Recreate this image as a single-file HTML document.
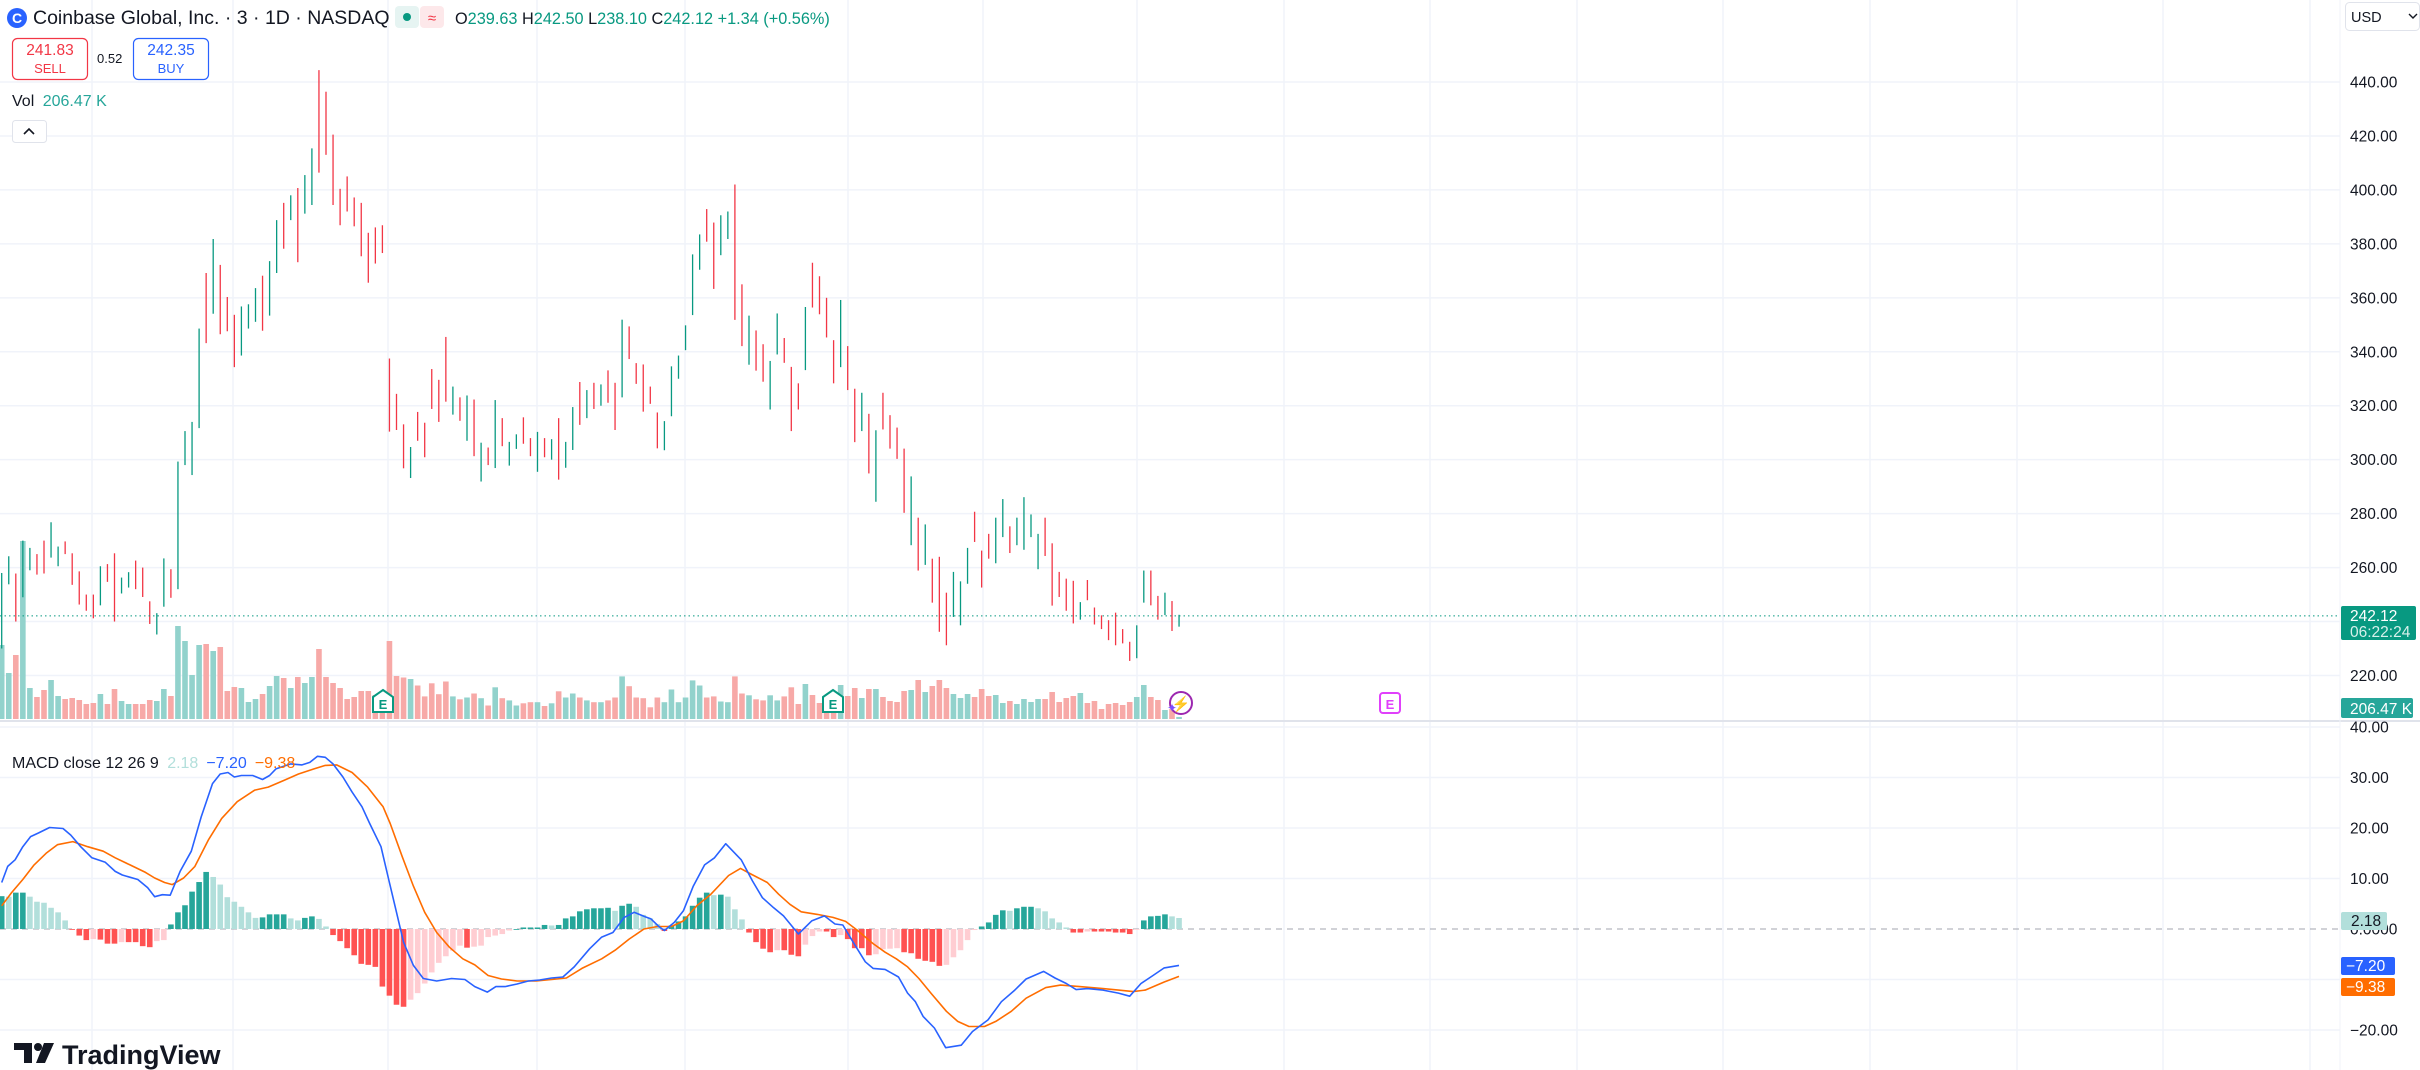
<!DOCTYPE html>
<html><head><meta charset="utf-8"><title>COIN 1D chart</title>
<style>
html,body{margin:0;padding:0;background:#fff;}
body{width:2420px;height:1070px;overflow:hidden;position:relative;font-family:"Liberation Sans",sans-serif;}
svg{position:absolute;left:0;top:0;}
.t{font-family:"Liberation Sans",sans-serif;}
</style></head>
<body>
<svg id="chart" width="2420" height="1070" viewBox="0 0 2420 1070" xmlns="http://www.w3.org/2000/svg">
  <g id="grid"></g>
  <g id="volume"></g>
  <g id="candles"></g>
  <g id="macdpane"></g>
  <g id="axis"></g>
  <g id="overlay"></g>
</svg>
<script>
var opens=[232,256.7,256.6,249.1,259.4,265,260.2,265,263,268.6,265.3,258.6,246.8,247,247.8,257.4,261,250.4,255.1,259,257.4,246.4,237.1,247.5,256.7,253.6,303.3,301.8,314,360.5,354.1,369.2,359.2,339.7,339.9,350.2,354,362.4,358.4,371.9,389.8,392,391.7,392.2,399.6,419.6,425,419,399.6,404,391.8,394.4,383.3,383,382.5,335.1,319.6,307,297.1,310.8,311.4,321.8,329.2,327.9,320,322.3,311.3,320.4,304.2,301.3,300,312.1,301.2,304,312.6,306,299.6,304.7,301.3,313.7,302.4,303.6,321.9,318.4,327.1,321.8,332.1,325.8,325.6,342.6,333.2,333.2,323.4,314.4,308.4,317.5,330,343.3,354.9,373.4,390.2,386.9,378.8,384.2,387.5,363.3,341.3,345.7,338.6,319.9,342.4,342.4,333.7,323,334.7,362.7,363.1,357.5,343.6,335.7,340.9,319,315.8,316.5,290,323,312.2,309.4,301.6,269.5,274.8,261.7,262.1,260,244.2,244.8,247.7,256.3,274.2,260.9,267.8,268.3,273.6,270.5,273,270.7,273.2,267,272,268.3,253.6,254.8,253,244.7,252,243.3,240.5,240.5,234.7,233.7,231.6,230.7,247,255.3,248.3,244.8,246.4,239.63];
var highs=[258,264.2,257.8,270,267.3,265,270,276.8,267.8,269.7,265.3,258.6,250,250,260.5,261.3,265.3,256.3,258.3,262.6,260,247.5,243.1,263.4,259.4,299.3,310.6,314,348.6,369.2,381.8,372.2,360.3,353.7,356.8,357.6,363.6,368.2,373.6,388.8,395.2,398,400.7,405.5,415.4,444.4,436.4,420.5,400.4,405,397.2,395.2,384.1,386.1,386.9,337.5,324.4,313.1,304.7,317.7,313.7,333.6,329.6,345.5,327.1,323.1,323.8,322.3,306.3,304.5,322.1,315.4,306.6,309.4,315.7,308,310.3,308,307.6,315.4,306.6,319.5,328.8,325.8,328.5,327.9,333.1,328.5,351.9,349.4,335.8,335.3,327.1,317.5,314.3,334.6,338.6,349.8,376.1,383.5,392.9,387.9,390.6,392,402,365,353.4,347.9,342.8,336.6,354.2,345.1,334.4,328.3,356.6,373,368,360,344.3,359.2,342.1,326.3,324.8,317,310.9,324.8,316.5,311.9,304.1,293.8,278.5,276,263.3,264,250.7,258.4,254.9,267.3,280.7,266.3,272.5,278.5,285.4,275.3,278.5,286.1,279.7,272.5,278.5,269,258.4,255.9,255.1,247.2,255.4,245.2,242.3,240.5,243.3,237.2,232.5,238.6,258.9,258.9,249.5,250.7,247.6,242.5];
var lows=[230,253.8,240,249,259,257.4,257.8,263.7,260.5,265,253.6,246.3,244,241.2,246,254.7,240,250.4,252.6,252,249.1,239.1,235.2,245.5,248.8,252,298,294.3,311.7,343.2,354.1,346.5,347.6,334.3,338.6,348.6,351.1,347.8,353.4,369.2,378.2,388.8,373.2,391.2,394.4,406.4,413,394.4,386.9,392,386.5,375.4,365.6,372.7,376.6,310.4,311,296.8,293.2,307,300.9,318.8,314,321.5,316.7,314.4,307,301.3,291.9,298,296.9,305,297.8,304,305.9,301.3,295.5,300.9,300,292.6,297,303.6,312.9,315.4,318.8,320,321.1,311,323.1,337.3,328.1,317.8,320.7,304.2,303.5,316.1,330,340.6,353.6,370.4,380.8,363.3,375.8,381.8,351.8,342.1,335.2,333,328.9,318.6,339,335.9,310.6,318.6,333.2,356.4,353.9,345.3,328.3,334.3,325.8,306.5,310.6,294.9,284.4,311.2,304.1,300.3,280.3,268.3,258.9,261,247,236.2,231.2,241.7,238.6,254,269.5,252.6,263.3,261.6,271.3,265.4,268.3,266.6,271.3,259.4,264.3,245.9,249.1,244,239.3,240.7,247.9,238.9,237.2,233.1,231.2,231.9,225.4,226.4,247,246,240.7,242.4,236.5,238.1];
var closes=[257,263.4,244.1,266.2,263.7,261,258.3,271.6,263.4,265.8,254,248.3,246.4,246.3,258.9,255.5,243.6,251.5,256.7,254.2,250.2,240.7,242.5,261.3,253.9,295,308,307.4,344.6,354.9,374.7,352.9,350,334.7,354.4,355.7,356.8,354.8,373.6,388.8,387,393.6,387.7,398,410.4,419.4,413,404,397.5,396.4,391.7,379,370.8,377.1,377.4,314.5,317.7,297.5,303.9,310.5,310,319.4,322.5,326.5,325.1,317.1,320.8,301.6,304.4,300,319.7,305.4,305.9,306,308,303.6,303.6,301.9,306.6,298.8,302.7,319.2,315.1,323.4,321.8,326.3,327.7,320,342.7,342.4,331.5,319.8,321.9,306.6,312.7,334.3,337.6,346.1,372,380.1,386.2,375.7,387.3,386.9,357.2,357.2,341.6,336.3,330,336,344,338.7,320.2,322.8,354.4,360.9,355.1,348.3,328.3,343.7,330.1,307.2,319.3,294.9,309.4,317.7,304.1,303.8,282.8,284.1,264,261.9,257.2,238,240.2,255.9,254.2,264.9,273,259.9,263.3,277,273.9,269.6,274.2,277.5,275.4,268.9,267.4,250.4,252.6,244,239.3,245,247.9,242.3,239.6,236.9,233.7,231.9,226,236.8,254.9,250.7,245.8,245.6,240.6,242.12];
var volumes=[7400,4600,6400,17800,3100,2200,2900,3900,2300,2000,2100,1900,1500,1600,2500,1500,3000,1800,1500,1500,1500,1900,1800,3000,2300,9300,7800,4400,7400,7500,6800,7200,2800,3200,3100,1700,2000,2500,3300,4300,4100,3100,4200,3600,4200,7000,4200,3600,3100,2000,2200,2800,2800,2400,2400,7800,4300,4150,4000,3350,2260,3570,2480,3750,2260,1970,2150,2550,2080,1350,3170,2080,1860,1350,1570,1680,1680,1300,1570,2770,2150,2550,2150,1860,1680,1680,1860,2150,4260,3280,2150,2080,1170,2150,1680,2950,1680,2150,3860,3350,2150,2260,1750,1680,4260,2550,2370,1970,1860,2370,1860,2260,3170,1500,3500,2400,1600,1600,1600,3400,2300,3100,2100,3000,3000,2200,1800,1700,2800,2900,3900,2700,3300,3900,3100,2500,2100,2500,2200,3000,2300,2400,1600,1800,1500,2000,1700,2000,2000,2700,1700,2100,2300,2600,1600,1800,1000,1500,1600,1400,1700,2200,3400,2200,1900,900,1000,206];
var histValues=[6.5,6.4,7.2,7.2,6.4,5.4,5.2,4.2,3.3,1.7,-0.1,-1.3,-2.2,-2,-2.1,-2.9,-2.9,-2.6,-2.6,-2.6,-3.4,-3.6,-2.4,-2.2,0.9,3.3,4.7,7.4,9.3,11.3,10.3,8.8,6.3,5.4,4.4,3.3,2.2,2.3,2.9,2.9,2.9,2.1,1.7,2.2,2.5,2,0.5,-1.2,-2.4,-3.8,-5.2,-6.9,-7.1,-7.5,-11.4,-13.2,-15,-15.4,-14,-12.7,-10.8,-8.6,-6.7,-5.4,-4.3,-3.3,-3.7,-3.5,-3.3,-1.6,-1.3,-1,-0.3,0,0.3,0.3,0.3,0.8,0.7,0.8,2.1,2.5,3.5,3.9,4.1,4.1,4.2,3.6,4.6,5,4.4,2.8,2.1,1,-0.4,0.7,1.5,2.5,4.6,6.2,7.2,6.7,6.8,6.4,3.9,1.9,-0.7,-2.6,-3.9,-4.6,-4.2,-4.2,-5.1,-5.4,-3.1,-1.4,-0.5,-0.5,-1.6,-1.2,-2,-3.8,-3.8,-5.2,-5,-4,-3.9,-3.8,-4.6,-4.8,-5.9,-6.3,-6.5,-7.3,-7.1,-5.6,-4.2,-2.2,-0.2,0.5,1.3,2.8,3.7,3.6,4.1,4.4,4.4,4.1,3.5,2.1,1.3,0.3,-0.7,-0.7,-0.5,-0.5,-0.5,-0.5,-0.7,-0.7,-1,-0.1,1.7,2.5,2.6,2.9,2.5,2.18];
var macdIdx=[0,0.85,1.9,3,4.1,5.2,6.8,8.7,9.8,11.2,12.8,14.7,16.1,17.1,19.3,20.7,21.7,22.8,23.9,25.3,26.9,28.3,29.9,31,32.1,33,34,35.6,37,38,38.9,41,42.6,43.7,44.8,45.9,47,48.4,49.7,51.1,52.2,53.8,54.9,56,57,58.4,59.8,61.7,63.8,65.7,67.1,68.9,70.1,71.4,73.1,74.7,76.3,78,79.6,81.2,83.4,85.1,86.7,88.3,89.7,91.3,92.1,93.2,94,95.4,96.7,98.1,99.7,101.1,102.7,104.9,106.5,107.9,109.5,110.9,113,114.9,116.7,118.2,119.3,120.9,122.5,123.6,125.3,127.2,128.5,129.6,130.7,132.3,133.9,136.1,137.7,139.9,141.8,143.7,145.3,147.8,149.4,151,152.4,154,156.2,158.4,160,161.6,163.3,164.9,167];
var macdValues=[9.2,12.4,13.7,16.3,18.3,19,20.1,19.9,18.6,16.3,14.1,13.2,11.4,10.7,9.8,8.2,6.4,6.8,6.7,11.4,15.4,22.2,28.8,30.7,31,30.1,30.4,30.4,29.6,30.4,31.7,32.7,32.5,33,34.2,34,32.7,30.1,27.1,24.2,20.9,16.3,9.8,3.3,-2.6,-7.2,-9.8,-10.3,-9.8,-10,-11.4,-12.5,-11.4,-11.4,-10.9,-10.3,-10.1,-9.7,-9.5,-7.5,-3.9,-1.6,-0.7,2.3,3.3,2.4,2,0.5,-0.3,1.3,3.6,8.5,12.7,14.1,16.9,13.7,9.5,6.2,4.2,2.6,-1,1.6,2.6,1,0.8,-2.9,-6.5,-7.8,-8,-9.5,-12.7,-14.4,-17.3,-19.6,-23.5,-23,-20.3,-18,-14.4,-12.1,-9.9,-8.4,-9.7,-10.8,-12,-11.8,-12.1,-12.7,-13.3,-10.8,-9.2,-7.7,-7.2];
var signalIdx=[0,1.4,3,4.6,6.3,7.9,10.1,12.2,14.4,16.1,18.2,20.4,21.7,23.1,24.2,25.8,27.4,29.3,31.2,33.4,35.9,37.8,40,42.1,44.3,45.9,47.5,49.7,51.9,54.1,55.1,56.8,58.4,60,61.7,63.5,65.4,67.1,69,70.9,73.1,75.8,78,80.1,82.3,85.1,87,89,91.1,93,95,96.7,98.6,100.6,103.1,104.8,106.4,108.6,110.2,111.8,113.4,115.7,117.9,119.7,121.4,123.6,125.3,126.9,128.5,130.1,131.8,134,135.6,137.2,139.4,141,143.2,145.3,148.1,150.2,152.9,156.2,158.4,160.5,162.2,164.9,167];
var signalValues=[4.6,7.2,9.8,12.7,15,16.7,17.3,16.3,15.4,14.1,12.7,11.2,10.1,9.2,8.8,10.1,12.4,17.6,21.9,25.2,27.5,28.1,29.4,30.7,31.7,32.4,32.5,31,28.1,24.2,20.9,14.4,8.5,3.3,-0.7,-3.6,-5.9,-7.1,-9.2,-9.9,-10.3,-10.3,-10,-9.7,-7.8,-5.9,-4.2,-2,0,0.5,0.5,1.6,4.6,6.9,10.6,12,10.8,9.2,6.9,4.9,3.4,2.9,2.3,1.5,-0.3,-2.9,-4.6,-5.9,-7.5,-9.8,-12.7,-16.3,-18.3,-19.3,-19.3,-18.3,-16.3,-13.7,-11.6,-11.1,-11.4,-11.8,-12.1,-12.4,-12.1,-10.5,-9.38];
var priceTicks=[440,420,400,380,360,340,320,300,280,260,220];
var macdTicks=[40,30,20,10,-20];
var monthLines=[92,233,388,537,685,848,983,1137,1284,1430,1577,1723,1870,2017,2163,2310];

var NS="http://www.w3.org/2000/svg";
function mk(tag,attrs,parent){var e=document.createElementNS(NS,tag);for(var k in attrs)e.setAttribute(k,attrs[k]);parent.appendChild(e);return e;}
function xOf(i){return 1.7+7.05*i;}
function yP(p){return 82+(440-p)*2.6977;}
function yM(v){return 929-v*5.05;}
function hV(v){return v/100;}
var GREEN="#089981",RED="#f23645";
var grid=document.getElementById('grid');
for(var k=0;k<monthLines.length;k++){
  var l=mk('line',{x1:monthLines[k],x2:monthLines[k],y1:0,y2:1070,stroke:'#f0f3fa','stroke-width':1.5},grid);
  
  
}
for(var p=440;p>=220;p-=20){
  var g=mk('line',{x1:0,x2:2340,y1:yP(p),y2:yP(p),stroke:'#f0f3fa','stroke-width':1.5},grid);
  
  
}
for(var v=40;v>=-20;v-=10){
  if(v===0)continue;
  var g2=mk('line',{x1:0,x2:2340,y1:yM(v),y2:yM(v),stroke:'#f0f3fa','stroke-width':1.5},grid);
  
  
}
var sep=mk('line',{x1:0,x2:2420,y1:721,y2:721,stroke:'#e0e3eb','stroke-width':2},grid);


var ab=mk('line',{x1:2340,x2:2340,y1:0,y2:1070,stroke:'#f0f3fa','stroke-width':1},grid);



var vol=document.getElementById('volume');
for(var i=0;i<volumes.length;i++){
  var up=closes[i]>=opens[i];
  var h=hV(volumes[i]);
  var r=mk('rect',{x:xOf(i)-2.8,y:719-h,width:5.6,height:h,fill:up?'#92d2cc':'#f7a9a7'},vol);
  
  
}
var cg=document.getElementById('candles');
for(var i=0;i<opens.length;i++){
  var up=closes[i]>=opens[i];var c=up?GREEN:RED;var x=xOf(i);
  var w=mk('line',{x1:x,x2:x,y1:yP(highs[i]),y2:yP(lows[i]),stroke:c,'stroke-width':1.3},cg);
  
  
  var top=yP(Math.max(opens[i],closes[i])),bot=yP(Math.min(opens[i],closes[i]));
  var b=mk('rect',{x:x-2.5,y:top,width:5,height:Math.max(1.2,bot-top),fill:c},cg);
  
  
}
var pl=mk('line',{x1:0,x2:2340,y1:yP(242.12),y2:yP(242.12),stroke:GREEN,'stroke-width':1,'stroke-dasharray':'1.5 3'},cg);



var mp=document.getElementById('macdpane');
var zl=mk('line',{x1:0,x2:2340,y1:yM(0),y2:yM(0),stroke:'#a3a6af','stroke-width':1,'stroke-dasharray':'6 5'},mp);


for(var i=0;i<histValues.length;i++){
  var hv=histValues[i],prev=i>0?histValues[i-1]:hv;var col;
  if(hv>=0)col=hv>=prev?'#26a69a':'#b2dfdb';else col=hv<=prev?'#ff5252':'#ffcdd2';
  var y0=yM(0),y1=yM(hv);
  var hb=mk('rect',{x:xOf(i)-2.8,y:Math.min(y0,y1),width:5.6,height:Math.max(0.8,Math.abs(y1-y0)),fill:col},mp);
  
  
}
function poly(idx,vals,color,name){
  var pts=[];for(var i=0;i<idx.length;i++)pts.push(xOf(idx[i]).toFixed(1)+','+yM(vals[i]).toFixed(1));
  var pl=mk('polyline',{points:pts.join(' '),fill:'none',stroke:color,'stroke-width':1.6,'stroke-linejoin':'round'},mp);
  
  
}
poly(signalIdx,signalValues,'#ff6d00','signal-line');
poly(macdIdx,macdValues,'#2962ff','macd-line');

var ax=document.getElementById('axis');
for(var k=0;k<priceTicks.length;k++){
  var t=mk('text',{x:2350,y:yP(priceTicks[k])+5.5,'font-size':15.5,fill:'#131722','class':'t'},ax);
  t.textContent=priceTicks[k].toFixed(2);
  
  
}
for(var k=0;k<macdTicks.length;k++){
  var t2=mk('text',{x:2350,y:yM(macdTicks[k])+5.5,'font-size':15.5,fill:'#131722','class':'t'},ax);
  t2.textContent=(macdTicks[k]<0?'\u2212'+Math.abs(macdTicks[k]).toFixed(2):macdTicks[k].toFixed(2));
  
  
}
var zt=mk('text',{x:2350,y:yM(0)+5.5,'font-size':15.5,fill:'#131722','class':'t'},ax);
zt.textContent='0.0000';


</script>

<svg width="2420" height="1070" viewBox="0 0 2420 1070" xmlns="http://www.w3.org/2000/svg" style="pointer-events:none">
  <g>
    <circle cx="17" cy="18" r="10" fill="#2962ff"/>
    <text x="17" y="23" font-size="14" font-weight="bold" fill="#fff" text-anchor="middle" class="t">C</text>
    <text x="33" y="24" font-size="19.5" fill="#131722" class="t">Coinbase Global, Inc. · 3 · 1D · NASDAQ</text>
    <rect x="395" y="6" width="24" height="22" rx="4" fill="#e6f4f2"/>
    <circle cx="407" cy="17" r="4" fill="#089981"/>
    <rect x="420" y="6" width="24" height="22" rx="4" fill="#fde8ea"/>
    <text x="432" y="23" font-size="15" fill="#f23645" text-anchor="middle" class="t">≈</text>
    <text x="455" y="24" font-size="16.3" class="t" fill="#089981"><tspan fill="#131722">O</tspan>239.63 <tspan fill="#131722">H</tspan>242.50 <tspan fill="#131722">L</tspan>238.10 <tspan fill="#131722">C</tspan>242.12 +1.34 (+0.56%)</text>
  </g>
  <g>
    <rect x="12.5" y="38.5" width="75" height="41" rx="5" fill="#fff" stroke="#f23645" stroke-width="1.2"/>
    <text x="50" y="55" font-size="15.5" fill="#f23645" text-anchor="middle" class="t">241.83</text>
    <text x="50" y="73" font-size="13" fill="#f23645" text-anchor="middle" class="t">SELL</text>
  </g>
  <text x="97" y="63" font-size="13" fill="#131722" class="t">0.52</text>
  <g>
    <rect x="133.5" y="38.5" width="75" height="41" rx="5" fill="#fff" stroke="#2962ff" stroke-width="1.2"/>
    <text x="171" y="55" font-size="15.5" fill="#2962ff" text-anchor="middle" class="t">242.35</text>
    <text x="171" y="73" font-size="13" fill="#2962ff" text-anchor="middle" class="t">BUY</text>
  </g>
  <text x="12" y="106" font-size="16" fill="#131722" class="t">Vol <tspan fill="#26a69a" dx="4">206.47 K</tspan></text>
  <g>
    <rect x="12.5" y="120.5" width="34" height="22" rx="3" fill="#fff" stroke="#e0e3eb"/>
    <path d="M24 134 L29 129 L34 134" fill="none" stroke="#131722" stroke-width="1.6"/>
  </g>
  <text x="12" y="768" font-size="16" fill="#131722" class="t">MACD close 12 26 9 <tspan fill="#b2dfdb" dx="4">2.18</tspan><tspan fill="#2962ff" dx="8">−7.20</tspan><tspan fill="#ff6d00" dx="8">−9.38</tspan></text>
  <g>
    <path d="M373 697 L383 690 L393 697 L393 712 L373 712 Z" fill="#fff" stroke="#089981" stroke-width="2"/>
    <text x="383" y="709" font-size="13" font-weight="bold" fill="#089981" text-anchor="middle" class="t">E</text>
  </g>
  <g>
    <path d="M823 697 L833 690 L843 697 L843 712 L823 712 Z" fill="#fff" stroke="#089981" stroke-width="2"/>
    <text x="833" y="709" font-size="13" font-weight="bold" fill="#089981" text-anchor="middle" class="t">E</text>
  </g>
  <g>
    <rect x="1380" y="693" width="20" height="20" rx="3" fill="#fff" stroke="#e040fb" stroke-width="2"/>
    <text x="1390" y="709" font-size="13" font-weight="bold" fill="#e040fb" text-anchor="middle" class="t">E</text>
  </g>
  <g>
    <circle cx="1181" cy="703" r="11" fill="#fff" stroke="#9c27b0" stroke-width="2"/>
    <text x="1181" y="709" font-size="15" fill="#9c27b0" text-anchor="middle" class="t">⚡</text>
    <text x="1167" y="712" font-size="12" fill="#7c4dff" class="t">✦</text>
  </g>
  <g>
    <rect x="2345.5" y="2.5" width="74" height="28" rx="4" fill="#fff" stroke="#e0e3eb"/>
    <text x="2351" y="22" font-size="14.5" fill="#131722" class="t">USD</text>
    <path d="M2409 14 L2413 18 L2417 14" fill="none" stroke="#131722" stroke-width="1.4"/>
  </g>
  <g>
    <rect x="2341" y="606" width="75" height="34" rx="2" fill="#089981"/>
    <text x="2350" y="621" font-size="15.5" fill="#fff" class="t">242.12</text>
    <text x="2350" y="637" font-size="15.5" fill="#d7f0eb" class="t">06:22:24</text>
  </g>
  <g>
    <rect x="2341" y="698" width="72" height="20" rx="2" fill="#26a69a"/>
    <text x="2350" y="714" font-size="15.5" fill="#fff" class="t">206.47 K</text>
  </g>
  <g>
    <rect x="2341" y="912" width="46" height="18" rx="2" fill="#b2dfdb"/>
    <text x="2351" y="926" font-size="15.5" fill="#131722" class="t">2.18</text>
  </g>
  <g>
    <rect x="2341" y="957" width="54" height="18" rx="2" fill="#2962ff"/>
    <text x="2346" y="971" font-size="15.5" fill="#fff" class="t">−7.20</text>
  </g>
  <g>
    <rect x="2341" y="978" width="54" height="18" rx="2" fill="#ff6d00"/>
    <text x="2346" y="992" font-size="15.5" fill="#fff" class="t">−9.38</text>
  </g>
  <g>
    <path d="M14 1043 H32 V1063 H24 V1050 H14 Z" fill="#131722"/>
    <circle cx="38" cy="1047" r="4" fill="#131722"/>
    <path d="M44 1043 H54 L45 1063 H36 Z" fill="#131722"/>
    <text x="62" y="1064" font-size="27" font-weight="bold" fill="#131722" class="t">TradingView</text>
  </g>
</svg>
</body></html>
